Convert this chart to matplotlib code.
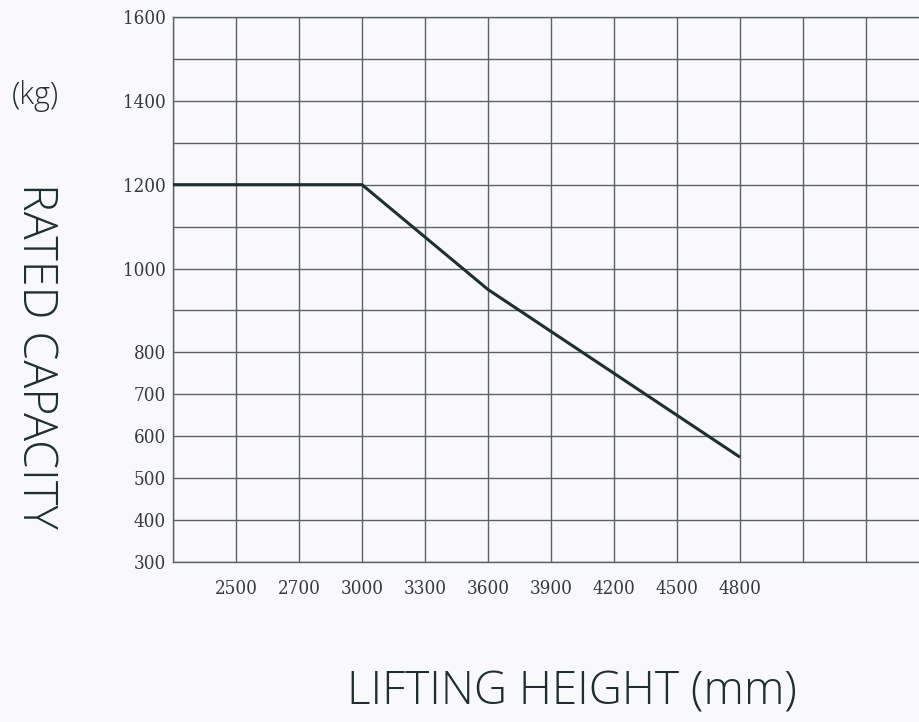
import matplotlib
matplotlib.use('Agg')
import matplotlib.pyplot as plt
import matplotlib.font_manager as fm
import numpy as np

# Data: x slots along the bottom (blank slots are unlabeled grid columns)
height_labels = ['', '2500', '2700', '3000', '3300', '3600', '3900', '4200', '4500', '4800', '', '', '']
capacity_kg = [1200, 1200, 1200, 1200, 1075, 950, 850, 750, 650, 550]
y_labeled = [300, 400, 500, 600, 700, 800, 1000, 1200, 1400, 1600]

bg = '#f9f9fc'
ink = '#1f2e30'
grid_c = '#5a6163'

# pick a family that has a light weight installed
label_family = 'DejaVu Sans'
label_weight = 'normal'
for name in ['Noto Sans', 'Open Sans', 'Lato', 'Inter', 'Roboto']:
    weights = [f.weight for f in fm.fontManager.ttflist if f.name == name]
    light = [w for w in weights if isinstance(w, int) and w <= 300]
    if light:
        label_family = name
        label_weight = max(light)
        break

serif_family = 'Liberation Serif'
for f in fm.fontManager.ttflist:
    if f.name == 'DejaVu Serif' and f.stretch == 'condensed':
        serif_family = 'DejaVu Serif'
        break

fig = plt.figure(figsize=(9.2, 7.22), dpi=100, facecolor=bg)
ax = fig.add_axes([173 / 920, 160 / 722, 756 / 920, 545 / 722], facecolor=bg)

xs = np.arange(len(capacity_kg))
ax.plot(xs, capacity_kg, color=ink, linewidth=2.2, zorder=5, solid_capstyle='butt')

ax.set_xlim(0, len(height_labels) - 1)
ax.set_ylim(300, 1600)

ax.set_xticks(np.arange(len(height_labels)))
ax.set_xticklabels(height_labels)
yt = np.arange(300, 1700, 100)
ax.set_yticks(yt)
ax.set_yticklabels([str(v) if v in y_labeled else '' for v in yt])

for lab in ax.get_xticklabels() + ax.get_yticklabels():
    lab.set_fontfamily([serif_family, 'DejaVu Serif'])
    lab.set_fontstretch('condensed')
    lab.set_fontsize(13.5)
    lab.set_color('#333a3c')
ax.tick_params(axis='both', length=0)
ax.tick_params(axis='x', pad=13)
ax.tick_params(axis='y', pad=5)

ax.grid(True, color=grid_c, linewidth=1.0)
ax.set_axisbelow(True)
for s in ax.spines.values():
    s.set_color(grid_c)
    s.set_linewidth(1.0)

label_font = [label_family, 'DejaVu Sans']
fig.text(35 / 920, 1 - 96 / 722, '(kg)', fontsize=22, family=label_font,
         fontweight=label_weight, color=ink, ha='center', va='center')
fig.text(35 / 920, 1 - 356 / 722, 'RATED CAPACITY', fontsize=33.5, family=label_font,
         fontweight=label_weight, color=ink, ha='center', va='center', rotation=-90)
fig.text(572 / 920, 1 - 692 / 722, 'LIFTING HEIGHT (mm)', fontsize=33, family=label_font,
         fontweight=label_weight, color=ink, ha='center', va='center')

plt.savefig('out.png', dpi=100, facecolor=bg)
plt.close()
